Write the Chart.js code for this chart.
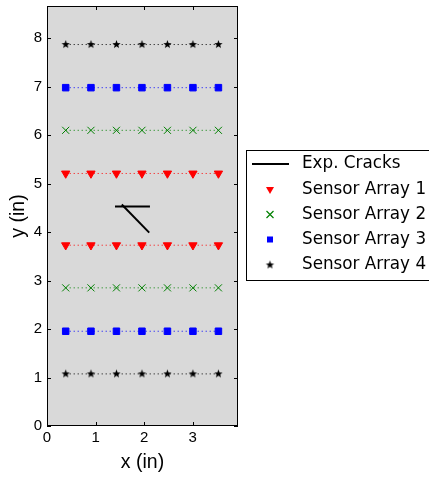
<!DOCTYPE html>
<html>
<head>
<meta charset="utf-8">
<script src="https://cdn.jsdelivr.net/npm/chart.js@4.4.1/dist/chart.umd.min.js"></script>
<style>
  html, body { margin: 0; padding: 0; background: #fff; }
  canvas { display: block; }
</style>
</head>
<body>
<canvas id="chart" width="429" height="477"></canvas>
<script>
// sensor positions along x (in)
const sensorX = [0.385, 0.905, 1.43, 1.955, 2.48, 3.005, 3.53];
// row heights (in) for each sensor array
const array1Y = [5.21, 3.73];
const array2Y = [6.10, 2.85];
const array3Y = [6.98, 1.955];
const array4Y = [7.87, 1.075];
// experimental cracks
const crack1X = [1.40, 2.12];
const crack1Y = [4.53, 4.53];
const crack2X = [1.54, 2.105];
const crack2Y = [4.57, 3.99];

const xTicks = [0, 1, 2, 3];
const yTicks = [0, 1, 2, 3, 4, 5, 6, 7, 8];
const legendLabels = ["Exp. Cracks", "Sensor Array 1", "Sensor Array 2", "Sensor Array 3", "Sensor Array 4"];

// filled star marker
function makeStar(R) {
  const c = document.createElement("canvas");
  const s = Math.ceil(R * 2 + 2);
  c.width = s; c.height = s;
  const g = c.getContext("2d");
  g.fillStyle = "#000";
  g.beginPath();
  for (let i = 0; i < 10; i++) {
    const r = i % 2 ? R * 0.42 : R;
    const a = -Math.PI / 2 + i * Math.PI / 5;
    const px = s / 2 + r * Math.cos(a), py = s / 2 + r * Math.sin(a);
    i ? g.lineTo(px, py) : g.moveTo(px, py);
  }
  g.closePath();
  g.fill();
  return c;
}
const star = makeStar(4.4);

const styles = [
  { color: "#ff0000", pointStyle: "triangle", rotation: 180, radius: 4.8 },
  { color: "#008000", pointStyle: "crossRot", rotation: 0, radius: 5 },
  { color: "#0000ff", pointStyle: "rect", rotation: 0, radius: 4.6 },
  { color: "#000000", pointStyle: star, rotation: 0, radius: 4.4 }
];
const rows = [array1Y, array2Y, array3Y, array4Y];

const datasets = [];
rows.forEach((ys, i) => {
  const st = styles[i];
  ys.forEach(y => {
    datasets.push({
      label: legendLabels[i + 1],
      data: sensorX.map(x => ({ x: x, y: y })),
      showLine: true,
      borderColor: st.color,
      backgroundColor: st.color,
      borderWidth: 1,
      borderDash: [1, 3],
      pointStyle: st.pointStyle,
      rotation: st.rotation,
      pointRadius: st.radius,
      pointBorderWidth: 1,
      pointBorderColor: st.color,
      pointBackgroundColor: st.color
    });
  });
});
[[crack1X, crack1Y], [crack2X, crack2Y]].forEach(([xs, ys]) => {
  datasets.push({
    label: legendLabels[0],
    data: xs.map((x, k) => ({ x: x, y: ys[k] })),
    showLine: true,
    borderColor: "#000",
    borderWidth: 2,
    pointRadius: 0
  });
});

const frame = {
  id: "frame",
  beforeDraw(chart) {
    const { ctx, chartArea: a } = chart;
    ctx.save();
    ctx.fillStyle = "#fff";
    ctx.fillRect(0, 0, chart.width, chart.height);
    ctx.fillStyle = "#d9d9d9";
    ctx.fillRect(a.left, a.top, a.right - a.left, a.bottom - a.top);
    ctx.restore();
  },
  afterDatasetsDraw(chart) {
    const { ctx, chartArea: a, scales } = chart;
    ctx.save();
    ctx.strokeStyle = "#000";
    ctx.lineWidth = 1;
    ctx.beginPath();
    xTicks.forEach(v => {
      const px = Math.round(scales.x.getPixelForValue(v)) + 0.5;
      ctx.moveTo(px, a.bottom); ctx.lineTo(px, a.bottom - 4);
      ctx.moveTo(px, a.top); ctx.lineTo(px, a.top + 4);
    });
    yTicks.forEach(v => {
      const py = Math.round(scales.y.getPixelForValue(v)) + 0.5;
      ctx.moveTo(a.left, py); ctx.lineTo(a.left + 4, py);
      ctx.moveTo(a.right, py); ctx.lineTo(a.right - 4, py);
    });
    ctx.stroke();
    ctx.strokeRect(Math.round(a.left) + 0.5, Math.round(a.top) + 0.5,
      Math.round(a.right - a.left) - 1, Math.round(a.bottom - a.top) - 1);
    ctx.restore();
  },
  afterDraw(chart) {
    const ctx = chart.ctx;
    ctx.save();
    // legend box, partly outside the canvas
    ctx.fillStyle = "#fff";
    ctx.fillRect(246, 150, 200, 131);
    ctx.strokeStyle = "#000";
    ctx.lineWidth = 1;
    ctx.strokeRect(246.5, 150.5, 200, 130);
    ctx.font = "16.8px 'DejaVu Sans'";
    ctx.textBaseline = "middle";
    ctx.fillStyle = "#000";
    const rowY = [164, 189.5, 214.5, 239.5, 265];
    const mx = 270;
    legendLabels.forEach((t, i) => {
      const y = rowY[i];
      ctx.fillStyle = "#000";
      ctx.fillText(t, 302, y);
      if (i === 0) {
        ctx.strokeStyle = "#000";
        ctx.lineWidth = 2;
        ctx.beginPath(); ctx.moveTo(252, y); ctx.lineTo(289, y); ctx.stroke();
        return;
      }
      const st = styles[i - 1];
      ctx.fillStyle = st.color;
      ctx.strokeStyle = st.color;
      if (i === 1) {
        ctx.beginPath();
        ctx.moveTo(mx - 4, y - 2.5); ctx.lineTo(mx + 4, y - 2.5); ctx.lineTo(mx, y + 4.5);
        ctx.closePath(); ctx.fill();
      } else if (i === 2) {
        ctx.lineWidth = 1.2;
        ctx.beginPath();
        ctx.moveTo(mx - 3.5, y - 3.5); ctx.lineTo(mx + 3.5, y + 3.5);
        ctx.moveTo(mx + 3.5, y - 3.5); ctx.lineTo(mx - 3.5, y + 3.5);
        ctx.stroke();
      } else if (i === 3) {
        ctx.fillRect(mx - 3, y - 3, 6, 6);
      } else {
        ctx.drawImage(star, mx - star.width / 2, y - star.height / 2);
      }
    });
    ctx.restore();
  }
};

const tickFont = { family: "'Liberation Sans', Arial, sans-serif", size: 15 };
const titleFont = { family: "'Liberation Sans', Arial, sans-serif", size: 19.5 };

new Chart(document.getElementById("chart"), {
  type: "scatter",
  data: { datasets: datasets },
  plugins: [frame],
  options: {
    responsive: false,
    animation: false,
    devicePixelRatio: 1,
    layout: { padding: { top: 5, right: 191, left: 0, bottom: 0 } },
    plugins: { legend: { display: false }, tooltip: { enabled: false } },
    scales: {
      x: {
        type: "linear",
        min: 0,
        max: 3.933,
        afterBuildTicks: s => { s.ticks = xTicks.map(v => ({ value: v })); },
        afterFit: s => { s.height = 51; s.paddingLeft = 0; s.paddingRight = 0; },
        grid: { display: false, drawTicks: false },
        border: { display: false },
        ticks: { font: tickFont, color: "#000", padding: 3, maxRotation: 0 },
        title: { display: true, text: "x (in)", font: titleFont, color: "#000", padding: { top: 0, bottom: 3 } }
      },
      y: {
        type: "linear",
        min: 0,
        max: 8.665,
        afterBuildTicks: s => { s.ticks = yTicks.map(v => ({ value: v })); },
        afterFit: s => { s.width = 47; s.paddingTop = 0; s.paddingBottom = 0; },
        grid: { display: false, drawTicks: false },
        border: { display: false },
        ticks: { font: tickFont, color: "#000", padding: 5 },
        title: { display: true, text: "y (in)", font: titleFont, color: "#000", padding: { top: 7, bottom: 0 } }
      }
    }
  }
});
</script>
</body>
</html>
